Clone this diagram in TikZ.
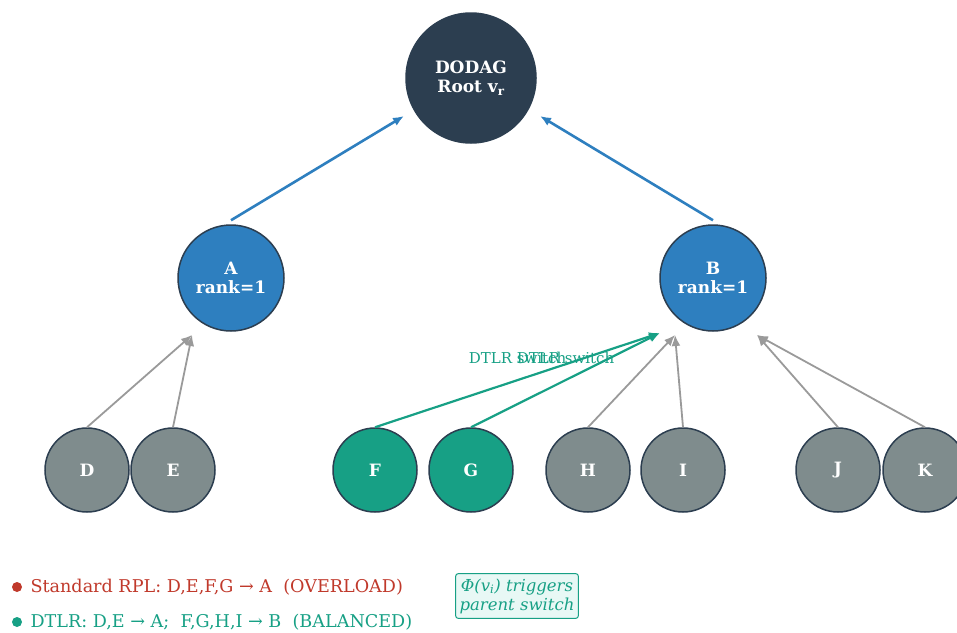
\documentclass[tikz,border=0pt]{standalone}
\usepackage{fontspec}
\setmainfont{DejaVu Serif}
\usetikzlibrary{arrows.meta}
\definecolor{croot}{HTML}{2C3E50}
\definecolor{cblue}{HTML}{2E7FBF}
\definecolor{cgray}{HTML}{7F8C8D}
\definecolor{cteal}{HTML}{17A085}
\definecolor{cred}{HTML}{C0392B}
\definecolor{carrow}{HTML}{9A9A9A}
\definecolor{cbox}{HTML}{E8F8F5}

\begin{document}
\begin{tikzpicture}[x=1pt,y=-1pt,>={Latex[length=11pt,width=9pt]},
  vertex/.style={circle,draw=croot,line width=1.5pt,text=white,align=center,inner sep=0pt,
    font=\bfseries\fontsize{17}{19}\selectfont},
  leaf/.style={vertex,minimum size=84pt,fill=cgray},
  uplink/.style={->,cblue,line width=2.6pt},
  oldlink/.style={->,carrow,line width=1.8pt},
  newlink/.style={->,cteal,line width=2.2pt},
  tag/.style={cteal,font=\fontsize{15}{17}\selectfont},
  legend/.style={anchor=west,font=\fontsize{17.6}{19}\selectfont}]
  \useasboundingbox (0,0) rectangle (957,632);

  % tree
  \node[vertex,minimum size=130pt,fill=croot] (root) at (471,78) {DODAG\\Root v\textsubscript{r}};
  \node[vertex,minimum size=106pt,fill=cblue] (A) at (231,278) {A\\rank=1};
  \node[vertex,minimum size=106pt,fill=cblue] (B) at (713,278) {B\\rank=1};
  \node[leaf] (D) at (87,470) {D};
  \node[leaf] (E) at (173,470) {E};
  \node[leaf,fill=cteal] (F) at (375,470) {F};
  \node[leaf,fill=cteal] (G) at (471,470) {G};
  \node[leaf] (H) at (588,470) {H};
  \node[leaf] (I) at (683,470) {I};
  \node[leaf] (J) at (838,470) {J};
  \node[leaf] (K) at (925,470) {K};

  % arrow ends
  \coordinate (rL) at (404,116);
  \coordinate (rR) at (540,116);
  \coordinate (aL) at (192,335);
  \coordinate (bL) at (660,333);
  \coordinate (bM) at (675,335);
  \coordinate (bR) at (757,335);

  \draw[uplink] ([yshift=4pt]A.north) -- (rL);
  \draw[uplink] ([yshift=4pt]B.north) -- (rR);
  \draw[oldlink] (D.north) -- (aL);
  \draw[oldlink] (E.north) -- (aL);
  \draw[oldlink] (H.north) -- (bM);
  \draw[oldlink] (I.north) -- (bM);
  \draw[oldlink] (J.north) -- (bR);
  \draw[oldlink] (K.north) -- (bR);
  \draw[newlink] (F.north) -- (bL) node[tag,midway,yshift=22pt] {DTLR switch};
  \draw[newlink] (G.north) -- (bL) node[tag,midway,yshift=22pt] {DTLR switch};

  % legend
  \fill[cred] (17,587) circle (5pt);
  \node[legend,cred] (old) at (27,587) {Standard RPL: D,E,F,G → A\ \ (OVERLOAD)};
  \fill[cteal] (17,622) circle (5pt);
  \node[legend,cteal] (new) at (27,622) {DTLR: D,E → A;\ \ F,G,H,I → B\ \ (BALANCED)};
  \node[draw=cteal,fill=cbox,line width=1pt,rounded corners=3pt,align=center,text=cteal,
    inner xsep=4pt,inner ysep=5pt,font=\itshape\fontsize{16.5}{19}\selectfont] (phi) at (517,596)
    {Φ(v\textsubscript{i}) triggers\\parent switch};
\end{tikzpicture}
\end{document}
